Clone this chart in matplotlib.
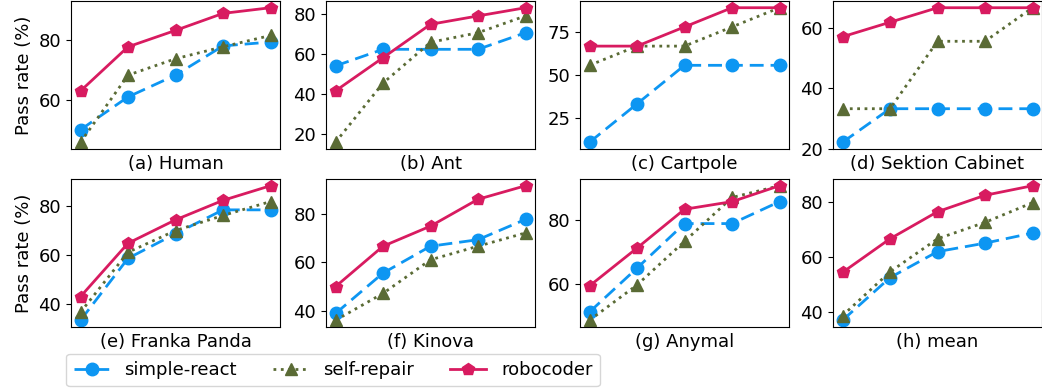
import matplotlib
matplotlib.use('Agg')
import matplotlib.pyplot as plt

plt.rcParams['font.family'] = ['DejaVu Sans']
plt.rcParams['font.size'] = 13

steps = [1, 2, 3, 4, 5]
titles = ['(a) Human', '(b) Ant', '(c) Cartpole', '(d) Sektion Cabinet',
          '(e) Franka Panda', '(f) Kinova', '(g) Anymal', '(h) mean']

simple_react = [
    [50.0, 61.0, 68.3, 78.1, 79.4],
    [54.2, 62.5, 62.5, 62.5, 70.8],
    [11.1, 33.3, 55.6, 55.6, 55.6],
    [22.2, 33.3, 33.3, 33.3, 33.3],
    [33.3, 58.7, 68.8, 78.6, 78.6],
    [38.9, 55.6, 66.7, 69.4, 77.8],
    [51.2, 65.0, 79.0, 79.0, 85.9],
    [36.9, 52.5, 62.0, 65.1, 68.8],
]
self_repair = [
    [45.8, 68.3, 73.8, 77.8, 81.6],
    [16.0, 45.6, 66.0, 70.8, 79.2],
    [55.6, 66.7, 66.7, 77.8, 88.9],
    [33.3, 33.3, 55.6, 55.6, 66.7],
    [36.6, 61.2, 70.1, 76.3, 82.0],
    [36.1, 47.2, 61.1, 66.7, 72.2],
    [48.6, 59.7, 73.4, 87.2, 90.9],
    [38.6, 54.6, 66.7, 72.7, 79.9],
]
robocoder = [
    [63.0, 77.8, 83.3, 89.0, 90.9],
    [41.7, 58.3, 75.0, 79.2, 83.3],
    [66.7, 66.7, 77.8, 88.9, 88.9],
    [57.1, 61.9, 66.7, 66.7, 66.7],
    [43.0, 64.9, 74.5, 82.5, 88.5],
    [50.0, 66.7, 75.0, 86.1, 91.7],
    [59.4, 71.3, 83.5, 85.9, 90.9],
    [54.4, 66.7, 76.6, 82.6, 86.1],
]
yticks = [[60, 80], [20, 40, 60, 80], [25, 50, 75], [20, 40, 60],
          [40, 60, 80], [40, 60, 80], [60, 80], [40, 60, 80]]

fig = plt.figure(figsize=(10.42, 3.89), dpi=100)

# panel placement in pixels (left edges, shared width, row top/bottom)
lefts = [71, 326, 580, 833]
width = 209
rows = [(1, 149), (179, 327)]
W, H = 1042.0, 389.0

handles = None
for i in range(8):
    r, c = divmod(i, 4)
    top, bottom = rows[r]
    ax = fig.add_axes([lefts[c] / W, 1 - bottom / H, width / W, (bottom - top) / H])
    h1, = ax.plot(steps, simple_react[i], color='#0d96f2', linestyle=(0, (5, 2.5)),
                  marker='o', markersize=9, linewidth=2, label='simple-react')
    h2, = ax.plot(steps, self_repair[i], color='#5a6b35', linestyle=':',
                  marker='^', markersize=9, linewidth=2, label='self-repair')
    h3, = ax.plot(steps, robocoder[i], color='#d81b60', linestyle='-',
                  marker='p', markersize=9, linewidth=2, label='robocoder')
    handles = [h1, h2, h3]
    ax.set_xticks([])
    ax.set_yticks(yticks[i])
    ax.set_xlabel(titles[i])
    if c == 0:
        ax.set_ylabel('Pass rate (%)')

fig.legend(handles=handles, loc='center', bbox_to_anchor=(333 / W, 1 - 370 / H),
           ncol=3, frameon=True, columnspacing=2.0, borderaxespad=0.2)

fig.savefig('out.png', dpi=100)
